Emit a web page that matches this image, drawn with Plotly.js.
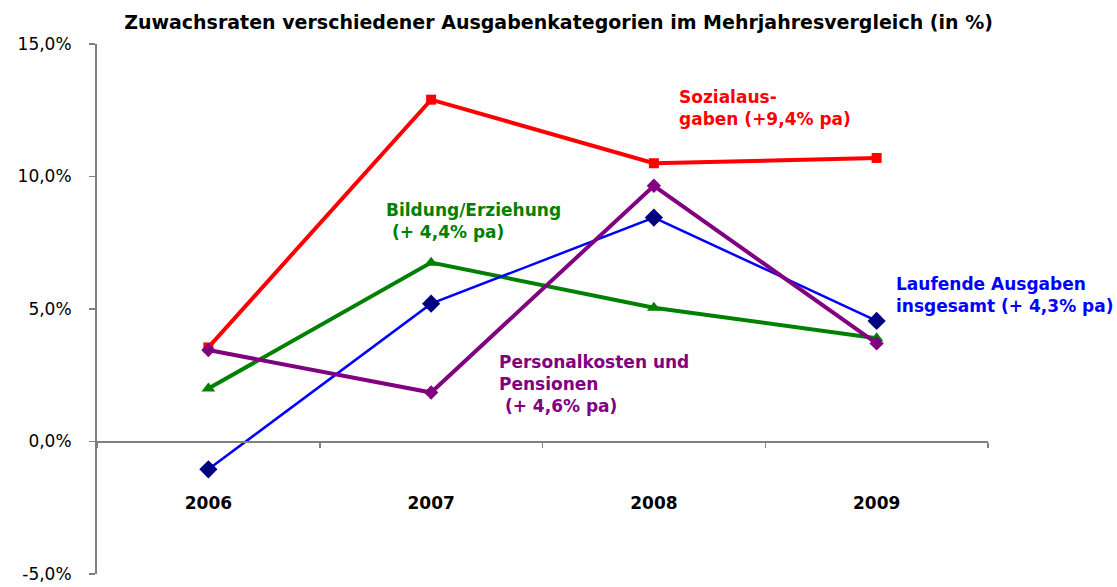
<!DOCTYPE html>
<html>
<head>
<meta charset="utf-8">
<script src="https://cdn.plot.ly/plotly-3.0.1.min.js"></script>
<style>html,body{margin:0;padding:0;background:#fff;}#chart{width:1117px;height:587px;}</style>
</head>
<body>
<div id="chart"></div>
<script>
const years = ['2006', '2007', '2008', '2009'];
const sozialausgaben = [3.55, 12.9, 10.5, 10.7];
const bildung = [2.0, 6.75, 5.05, 3.9];
const laufendeAusgaben = [-1.05, 5.2, 8.45, 4.55];
const personalkosten = [3.45, 1.85, 9.65, 3.7];
const yTicks = [-5, 0, 5, 10, 15];
const yTickLabels = ['-5,0%', '0,0%', '5,0%', '10,0%', '15,0%'];

const FONT = 'DejaVu Sans, Verdana, sans-serif';

const traces = [
  {x: years, y: sozialausgaben, name: 'Sozialausgaben', mode: 'lines+markers',
   line: {color: '#FF0000', width: 4}, marker: {symbol: 'square', size: 10, color: '#FF0000'}},
  {x: years, y: bildung, name: 'Bildung/Erziehung', mode: 'lines+markers',
   line: {color: '#008000', width: 4}, marker: {symbol: 'triangle-up', size: 12, color: '#008000'}},
  {x: years, y: laufendeAusgaben, name: 'Laufende Ausgaben insgesamt', mode: 'lines+markers',
   line: {color: '#0000FF', width: 2.5}, marker: {symbol: 'diamond', size: 14, color: '#000080'}},
  {x: years, y: personalkosten, name: 'Personalkosten und Pensionen', mode: 'lines+markers',
   line: {color: '#800080', width: 4}, marker: {symbol: 'diamond', size: 11, color: '#800080'}}
];

const labelFont = (c) => ({family: FONT, size: 17, color: c, weight: 'bold'});

const layout = {
  width: 1117, height: 587,
  margin: {l: 97, r: 129, t: 44, b: 13},
  paper_bgcolor: '#fff', plot_bgcolor: '#fff',
  showlegend: false,
  title: {text: '<b>Zuwachsraten verschiedener Ausgabenkategorien im Mehrjahresvergleich (in %)</b>',
          font: {family: FONT, size: 19, color: '#000'}, xref: 'container', x: 0.5, xanchor: 'center',
          yref: 'container', y: 0.962, yanchor: 'middle'},
  xaxis: {type: 'category', range: [-0.5, 3.5], anchor: 'free', position: 0.25,
          showline: true, linecolor: '#808080', linewidth: 2, showgrid: false, zeroline: false,
          ticks: 'outside', tickson: 'boundaries', ticklen: 5, tickcolor: '#808080', tickwidth: 1.5,
          ticklabelstandoff: 46,
          tickfont: {family: FONT, size: 17, color: '#000', weight: 'bold'}},
  yaxis: {range: [-5, 15], tickvals: yTicks, ticktext: yTickLabels,
          showline: true, linecolor: '#808080', linewidth: 2, showgrid: false, zeroline: false,
          ticks: 'outside', ticklen: 6, tickcolor: '#808080', tickwidth: 1.5,
          ticklabelstandoff: 14,
          tickfont: {family: FONT, size: 17, color: '#000'}},
  annotations: [
    {text: 'Sozialaus-<br>gaben (+9,4% pa)', xref: 'paper', yref: 'paper', x: 0.651, y: 0.922,
     xanchor: 'left', yanchor: 'top', align: 'left', showarrow: false, font: labelFont('#FF0000')},
    {text: 'Bildung/Erziehung<br> (+ 4,4% pa)', xref: 'paper', yref: 'paper', x: 0.322, y: 0.71,
     xanchor: 'left', yanchor: 'top', align: 'left', showarrow: false, font: labelFont('#008000')},
    {text: 'Laufende Ausgaben<br>insgesamt (+ 4,3% pa)', xref: 'paper', yref: 'paper', x: 0.894, y: 0.57,
     xanchor: 'left', yanchor: 'top', align: 'left', showarrow: false, font: labelFont('#0000FF')},
    {text: 'Personalkosten und<br>Pensionen<br> (+ 4,6% pa)', xref: 'paper', yref: 'paper', x: 0.449, y: 0.423,
     xanchor: 'left', yanchor: 'top', align: 'left', showarrow: false, font: labelFont('#800080')}
  ]
};

Plotly.newPlot('chart', traces, layout, {displayModeBar: false, staticPlot: true});
</script>
</body>
</html>
